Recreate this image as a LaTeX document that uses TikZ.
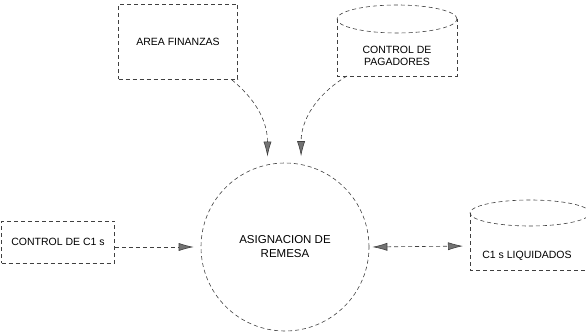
\documentclass[tikz,border=0pt]{standalone}
\usepackage{fontspec}
\setmainfont{Liberation Sans}
\usetikzlibrary{arrows.meta}
\begin{document}
\begin{tikzpicture}[x=1pt,y=-1pt,
  ln/.style={draw=black!75, line width=0.6pt, dash pattern=on 4pt off 3pt},
  tipa/.tip={Latex[length=15pt,width=8pt,fill=black!55]},
  arr/.style={ln, -tipa},
  lbl/.style={font=\fontsize{10.5}{12.5}\selectfont, align=center, inner sep=0pt},
  big/.style={font=\fontsize{11.5}{14}\selectfont, align=center, inner sep=0pt}]
\useasboundingbox (0,0) rectangle (586,334);

% external entities
\node[ln, lbl, minimum width=119pt, minimum height=75pt] (fin) at (178,42) {AREA FINANZAS};
\node[ln, lbl, minimum width=113pt, minimum height=42pt] (cc1) at (58,242) {CONTROL DE C1 s};

% process
\node[ln, big, circle, minimum size=168pt] (asig) at (285,247) {ASIGNACION DE\\REMESA};

% data store: control de pagadores
\draw[ln] (337,19) -- (337,76) -- (457,76) -- (457,19);
\draw[ln] (397,19) ellipse [x radius=60pt, y radius=14pt];
\node[lbl] (pag) at (397,56) {CONTROL DE\\PAGADORES};
\coordinate (pagS) at (347,76);

% data store: C1 s liquidados
\draw[ln] (470,213) -- (470,270) -- (590,270);
\draw[ln] (530,213) ellipse [x radius=60pt, y radius=13pt];
\node[lbl] (liq) at (527,256) {C1 s LIQUIDADOS};
\coordinate (liqW) at (470,246);

% flows
\draw[arr, shorten >=8pt] ([xshift=-6pt]fin.south east) .. controls +(22,18) and +(0,-45) .. (asig.102);
\draw[arr, shorten >=8pt] (pagS) .. controls +(-30,18) and +(0,-45) .. (asig.79);
\draw[arr, shorten >=7pt] (cc1.east |- asig.west) -- (asig.west);
\draw[ln, tipa-tipa, shorten <=3pt, shorten >=7pt] (asig.east) -- (liqW);
\end{tikzpicture}
\end{document}
